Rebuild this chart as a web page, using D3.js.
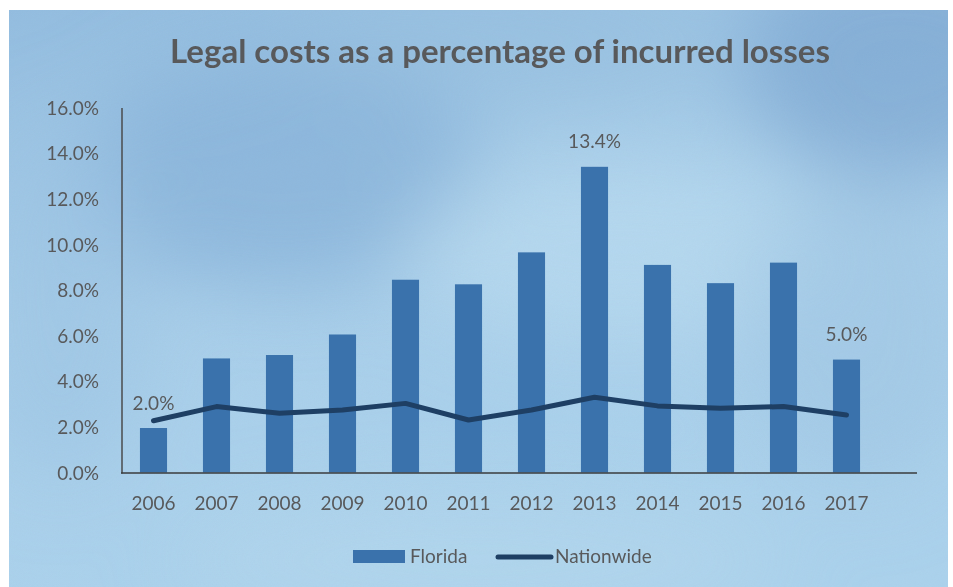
<!DOCTYPE html>
<html>
<head>
<meta charset="utf-8">
<script src="https://cdn.jsdelivr.net/npm/d3@7"></script>
<style>
  html, body { margin: 0; padding: 0; background: #ffffff; }
  svg { display: block; }
</style>
</head>
<body>
<svg id="chart" width="953" height="587"></svg>
<script>
// ---- data ----
const years = ["2006","2007","2008","2009","2010","2011","2012","2013","2014","2015","2016","2017"];
const florida = [1.95, 5.0, 5.15, 6.05, 8.45, 8.25, 9.65, 13.4, 9.1, 8.3, 9.2, 4.95];
const nationwide = [2.27, 2.89, 2.6, 2.74, 3.03, 2.3, 2.74, 3.3, 2.92, 2.82, 2.89, 2.52];
const yTicks = [0, 2, 4, 6, 8, 10, 12, 14, 16];
const barLabels = [{year: "2006", text: "2.0%"}, {year: "2013", text: "13.4%"}, {year: "2017", text: "5.0%"}];
const seriesNames = ["Florida", "Nationwide"];
const titleText = "Legal costs as a percentage of incurred losses";

// ---- setup ----
const svg = d3.select("#chart");
const textColor = "#58595b";
const barColor = "#3a72ac";
const lineColor = "#1e3f64";
const font = "Lato, 'Open Sans', sans-serif";

// background watercolor
const defs = svg.append("defs");
const bg = defs.append("linearGradient").attr("id", "bgGrad").attr("x1", 0).attr("y1", 0).attr("x2", 0.3).attr("y2", 1);
bg.append("stop").attr("offset", "0%").attr("stop-color", "#93bde0");
bg.append("stop").attr("offset", "50%").attr("stop-color", "#aad0eb");
bg.append("stop").attr("offset", "100%").attr("stop-color", "#acd3ed");
const blur = defs.append("filter").attr("id", "blur").attr("x", "-50%").attr("y", "-50%").attr("width", "200%").attr("height", "200%");
blur.append("feGaussianBlur").attr("stdDeviation", 40);
const noise = defs.append("filter").attr("id", "noise");
noise.append("feTurbulence").attr("type", "fractalNoise").attr("baseFrequency", 0.9).attr("numOctaves", 2).attr("seed", 3);
noise.append("feColorMatrix").attr("type", "matrix")
  .attr("values", "0 0 0 0 0.35  0 0 0 0 0.5  0 0 0 0 0.65  0 0 0 0.35 0");
const clip = defs.append("clipPath").attr("id", "panelClip");
clip.append("rect").attr("x", 9).attr("y", 10).attr("width", 939).attr("height", 577);

const bgG = svg.append("g").attr("clip-path", "url(#panelClip)");
bgG.append("rect").attr("x", 9).attr("y", 10).attr("width", 939).attr("height", 577).attr("fill", "url(#bgGrad)");
const blobs = [
  {cx: 280, cy: 170, rx: 200, ry: 120, c: "#87b2d9", o: 0.75},
  {cx: 900, cy: 60, rx: 160, ry: 120, c: "#7ea9d3", o: 0.8},
  {cx: 620, cy: 250, rx: 220, ry: 90, c: "#bfe0f2", o: 0.55},
  {cx: 60, cy: 300, rx: 90, ry: 180, c: "#9cc5e4", o: 0.6},
  {cx: 860, cy: 330, rx: 120, ry: 160, c: "#a0c7e5", o: 0.6},
  {cx: 480, cy: 560, rx: 300, ry: 60, c: "#b5d9ef", o: 0.6},
  {cx: 500, cy: 40, rx: 220, ry: 50, c: "#96bfe0", o: 0.6}
];
bgG.append("g").attr("filter", "url(#blur)").selectAll("ellipse").data(blobs).join("ellipse")
  .attr("cx", d => d.cx).attr("cy", d => d.cy).attr("rx", d => d.rx).attr("ry", d => d.ry)
  .attr("fill", d => d.c).attr("opacity", d => d.o);
bgG.append("rect").attr("x", 9).attr("y", 10).attr("width", 939).attr("height", 577)
  .attr("filter", "url(#noise)").attr("opacity", 0.35);

// ---- scales ----
const x = d3.scaleBand().domain(years).range([122, 878]).paddingInner(0.57).paddingOuter(0.285);
const y = d3.scaleLinear().domain([0, 16]).range([472.5, 107.5]);

// title
svg.append("text").attr("x", 500).attr("y", 63).attr("text-anchor", "middle")
  .attr("font-family", font).attr("font-weight", 700).attr("font-size", 33)
  .attr("fill", textColor).text(titleText);

// y axis labels
const yAxis = d3.axisLeft(y).tickValues(yTicks).tickFormat(d => d3.format(".1f")(d) + "%").tickSize(0).tickPadding(0);
const yg = svg.append("g").attr("transform", "translate(99,0)").call(yAxis);
yg.select(".domain").remove();
yg.selectAll("text").attr("font-family", font).attr("font-size", 19).attr("fill", textColor).attr("dy", "0.35em");

// bars
svg.append("g").selectAll("rect").data(years).join("rect")
  .attr("x", d => x(d)).attr("width", x.bandwidth())
  .attr("y", (d, i) => y(florida[i])).attr("height", (d, i) => y(0) - y(florida[i]))
  .attr("fill", barColor);

// axis lines
svg.append("line").attr("x1", 122).attr("x2", 122).attr("y1", 108).attr("y2", 473.5)
  .attr("stroke", "#4a4b4d").attr("stroke-width", 1.5);
svg.append("line").attr("x1", 121).attr("x2", 917).attr("y1", 473).attr("y2", 473)
  .attr("stroke", "#3a3b3d").attr("stroke-width", 1.5);

// x axis labels
const xAxis = d3.axisBottom(x).tickSize(0).tickPadding(0);
const xg = svg.append("g").attr("transform", "translate(0,503)").call(xAxis);
xg.select(".domain").remove();
xg.selectAll("text").attr("font-family", font).attr("font-size", 19).attr("fill", textColor).attr("dy", "0.35em");

// nationwide line
const line = d3.line().x((d, i) => x(years[i]) + x.bandwidth() / 2).y(d => y(d));
svg.append("path").datum(nationwide).attr("d", line)
  .attr("fill", "none").attr("stroke", lineColor).attr("stroke-width", 5)
  .attr("stroke-linecap", "round").attr("stroke-linejoin", "round");

// data labels
svg.append("g").selectAll("text").data(barLabels).join("text")
  .attr("x", d => x(d.year) + x.bandwidth() / 2)
  .attr("y", d => y(florida[years.indexOf(d.year)]) - 25)
  .attr("dy", "0.35em").attr("text-anchor", "middle")
  .attr("font-family", font).attr("font-size", 19).attr("fill", textColor)
  .text(d => d.text);

// legend
const lg = svg.append("g");
lg.append("rect").attr("x", 353).attr("y", 550).attr("width", 52).attr("height", 13).attr("fill", barColor);
lg.append("text").attr("x", 410).attr("y", 556).attr("dy", "0.35em")
  .attr("font-family", font).attr("font-size", 19).attr("fill", textColor).text(seriesNames[0]);
lg.append("line").attr("x1", 498).attr("x2", 551).attr("y1", 557).attr("y2", 557)
  .attr("stroke", lineColor).attr("stroke-width", 5).attr("stroke-linecap", "round");
lg.append("text").attr("x", 555).attr("y", 556).attr("dy", "0.35em")
  .attr("font-family", font).attr("font-size", 19).attr("fill", textColor).text(seriesNames[1]);
</script>
</body>
</html>
